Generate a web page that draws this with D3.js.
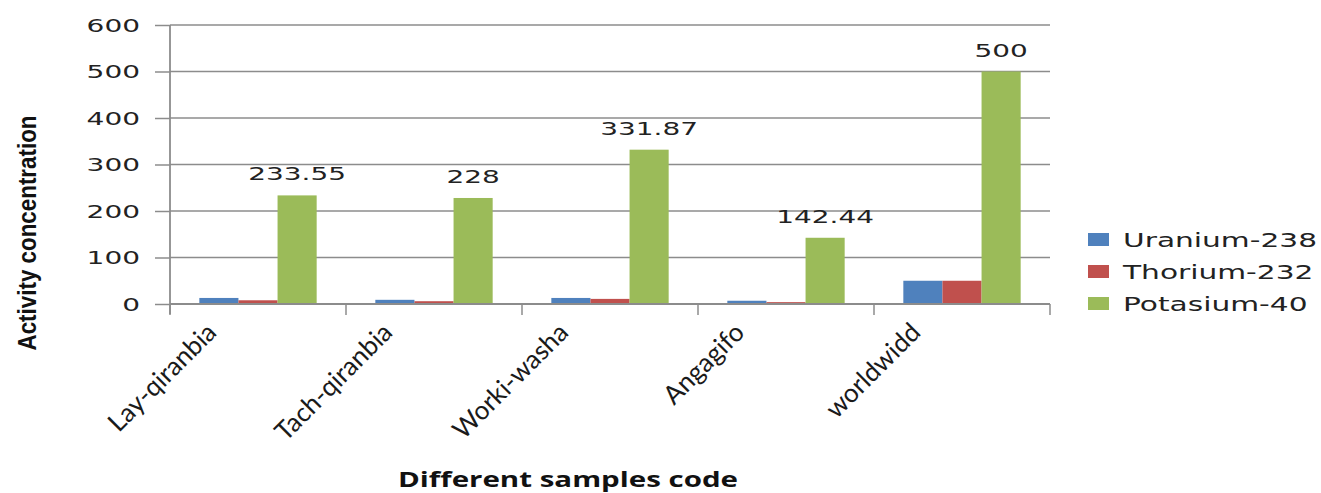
<!DOCTYPE html>
<html><head><meta charset="utf-8">
<script src="https://cdn.jsdelivr.net/npm/d3@7"></script>
<style>body{margin:0;background:#fff}svg{display:block}</style>
</head><body>
<svg id="c" width="1321" height="493"></svg>
<script>
const categories = ["Lay-qiranbia","Tach-qiranbia","Worki-washa","Angagifo","worldwidd"];
const seriesNames = ["Uranium-238","Thorium-232","Potasium-40"];
const uranium = [13, 9, 13, 7, 50];
const thorium = [8, 6, 11, 4, 50];
const potassium = [233.55, 228, 331.87, 142.44, 500];
const yTicks = [0,100,200,300,400,500,600];
const colors = ["#4F81BD","#C0504D","#9BBB59"];

const svg = d3.select("#c");
const L = 170, R = 1050, T = 25, B = 304;
const gray = "#8c8c8c";

const x0 = d3.scaleBand().domain(categories).range([L,R]).padding(0);
const x1 = d3.scaleBand().domain(seriesNames).range([0,x0.bandwidth()]).paddingInner(0).paddingOuter(0.75);
const y = d3.scaleLinear().domain([0,600]).range([B,T]);

function stretch(sel,k){ sel.each(function(){ const l=this.getComputedTextLength(); this.setAttribute("textLength", l*k); this.setAttribute("lengthAdjust","spacingAndGlyphs"); }); return sel; }

// gridlines
svg.append("g").selectAll("line").data(yTicks.filter(d=>d>0)).join("line")
  .attr("x1",L).attr("x2",R).attr("y1",d=>y(d)).attr("y2",d=>y(d))
  .attr("stroke",gray).attr("stroke-width",1.5);

// y axis
const ya = svg.append("g").attr("transform",`translate(${L},0)`)
  .call(d3.axisLeft(y).tickValues(yTicks).tickSize(15).tickFormat(d3.format("d")));
ya.select(".domain").attr("stroke",gray).attr("stroke-width",1.8).attr("d",`M0,${T}V${B+10}`);
ya.selectAll(".tick line").attr("stroke",gray).attr("stroke-width",1.5);
ya.selectAll(".tick text").attr("x",-30).attr("dy","0.36em").attr("font-family","DejaVu Sans").attr("font-size",17.5).attr("fill","#222").call(stretch,1.6);

// bars
const data = categories.map((c,i)=>({c, vals:[uranium[i],thorium[i],potassium[i]]}));
const g = svg.append("g").selectAll("g").data(data).join("g").attr("transform",d=>`translate(${x0(d.c)},0)`);
g.selectAll("rect").data(d=>d.vals.map((v,j)=>({s:seriesNames[j],v,j}))).join("rect")
  .attr("x",d=>x1(d.s)).attr("width",x1.bandwidth()).attr("y",d=>y(d.v)).attr("height",d=>B-y(d.v))
  .attr("fill",d=>colors[d.j]);

// data labels on potassium
svg.append("g").selectAll("text").data(categories).join("text")
  .attr("x",(c)=>x0(c)+x1("Potasium-40")+x1.bandwidth()/2).attr("y",(c,i)=>y(potassium[i])-15)
  .attr("text-anchor","middle").attr("font-family","DejaVu Sans").attr("font-size",18).attr("fill","#222")
  .text((c,i)=>String(potassium[i])).call(stretch,1.55);

// x axis
const xa = svg.append("g").attr("transform",`translate(0,${B})`);
xa.append("line").attr("x1",L).attr("x2",R).attr("stroke",gray).attr("stroke-width",1.8);
const bounds = categories.map(c=>x0(c)).concat([R]);
xa.selectAll("line.t").data(bounds).join("line").attr("class","t")
  .attr("x1",d=>d).attr("x2",d=>d).attr("y1",0).attr("y2",11).attr("stroke",gray).attr("stroke-width",1.5);
svg.append("g").selectAll("text").data(categories).join("text")
  .attr("transform",c=>`translate(${x0(c)+x0.bandwidth()/2-40},334) rotate(-45)`)
  .attr("text-anchor","end").attr("font-family","Lato").attr("font-size",26).attr("fill","#1a1a1a").text(c=>c);

// axis titles
svg.append("text").attr("transform","translate(36,233) rotate(-90)").attr("text-anchor","middle")
  .attr("font-family","Liberation Sans Narrow, Liberation Sans").attr("font-weight","bold").attr("font-size",26).attr("fill","#111")
  .attr("textLength",235).attr("lengthAdjust","spacingAndGlyphs").text("Activity concentration");
svg.append("text").attr("x",568).attr("y",487).attr("text-anchor","middle")
  .attr("font-family","Open Sans").attr("font-weight","bold").attr("font-size",21).attr("fill","#111")
  .attr("textLength",340).attr("lengthAdjust","spacingAndGlyphs").text("Different samples code");

// legend
const lg = svg.append("g").selectAll("g").data(seriesNames).join("g")
  .attr("transform",(d,i)=>`translate(1088,${240+i*32})`);
lg.append("rect").attr("x",0).attr("y",-7).attr("width",21).attr("height",13).attr("fill",(d,i)=>colors[i]);
lg.append("text").attr("x",35).attr("y",0).attr("dy","0.36em").attr("font-family","DejaVu Sans").attr("font-size",19.5).attr("fill","#222")
  .text(d=>d).call(stretch,1.52);
</script>
</body></html>
